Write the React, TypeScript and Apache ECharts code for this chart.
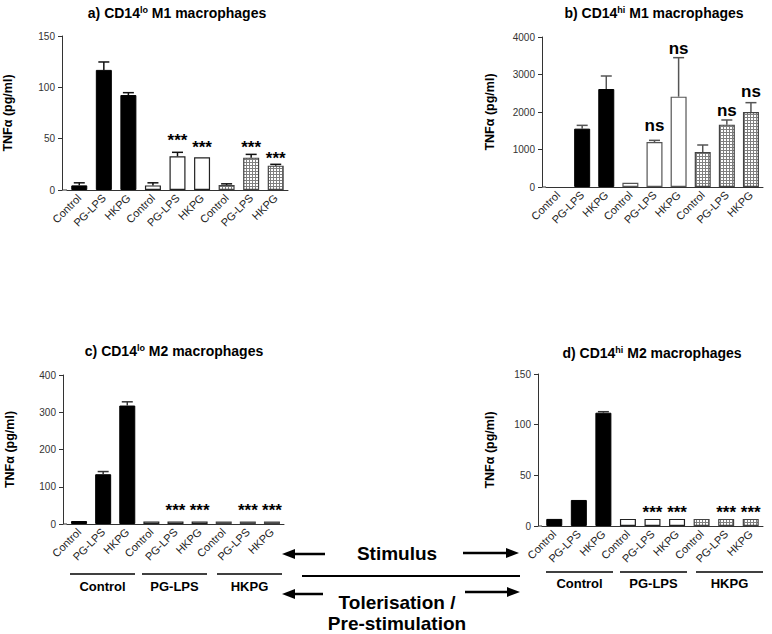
import React, { useEffect, useRef } from 'react';
import * as echarts from 'echarts';

const categories = ['Control', 'PG-LPS', 'HKPG', 'Control', 'PG-LPS', 'HKPG', 'Control', 'PG-LPS', 'HKPG'];
const groupNames = ['Control', 'PG-LPS', 'HKPG'];

// panel a) CD14lo M1
const aValues = [4.5, 117, 92.5, 4.5, 32.8, 31.8, 4.9, 31.5, 23.7];
const aErrors = [7, 124.7, 94.8, 7, 36.7, null, 6, 34.7, 25];
const aSig = ['', '', '', '', '***', '***', '', '***', '***'];
const aSigPos = [null, null, null, null, 51, 44, null, 44.5, 34];

// panel b) CD14hi M1
const bValues = [0, 1556, 2613, 110, 1200, 2409, 933, 1662, 2000];
const bErrors = [null, 1644, 2960, null, 1244, 3449, 1120, 1787, 2249];
const bSig = ['', '', '', '', 'ns', 'ns', '', 'ns', 'ns'];
const bSigPos = [null, null, null, null, 1640, 3700, null, 2040, 2560];

// panel c) CD14lo M2
const cValues = [8, 133.6, 318, 7, 7, 7, 7, 7, 7];
const cErrors = [null, 140.8, 328, null, null, null, null, null, null];
const cSig = ['', '', '', '', '***', '***', '', '***', '***'];
const cSigPos = [null, null, null, null, 44, 44, null, 44, 44];

// panel d) CD14hi M2
const dValues = [7, 25.7, 111.8, 7, 7, 7, 7, 7, 7];
const dErrors = [null, null, 112.8, null, null, null, null, null, null];
const dSig = ['', '', '', '', '***', '***', '', '***', '***'];
const dSigPos = [null, null, null, null, 16.5, 16.5, null, 16.5, 16.5];

const yMax = [150, 4000, 400, 150];
const yInterval = [50, 1000, 100, 50];

const FONT = 'Liberation Sans, Arial, sans-serif';

export default function App() {
  const ref = useRef<HTMLDivElement>(null);

  useEffect(() => {
    if (!ref.current) return;
    const chart = echarts.init(ref.current, undefined, { renderer: 'svg' });

    // hatch pattern tile
    const cv = document.createElement('canvas');
    cv.width = 3;
    cv.height = 3;
    const ctx = cv.getContext('2d')!;
    ctx.fillStyle = '#ffffff';
    ctx.fillRect(0, 0, 3, 3);
    ctx.fillStyle = '#808080';
    ctx.fillRect(0, 0, 3, 1);
    ctx.fillRect(0, 0, 1, 3);
    const hatch: any = { image: cv, repeat: 'repeat' };

    const grids = [
      { left: 67, top: 36, width: 221, height: 154, offset: 5 },
      { left: 546, top: 37, width: 217, height: 150, offset: 4 },
      { left: 67, top: 375, width: 217, height: 149, offset: 4 },
      { left: 542, top: 374, width: 221, height: 152, offset: 4 },
    ];
    const nameGaps = [48, 46, 47, 42];
    const panels = [
      { values: aValues, errors: aErrors, sig: aSig, sigPos: aSigPos, edge: '#111', sigFont: `bold 17px ${FONT}` },
      { values: bValues, errors: bErrors, sig: bSig, sigPos: bSigPos, edge: '#555', sigFont: `bold 17px ${FONT}` },
      { values: cValues, errors: cErrors, sig: cSig, sigPos: cSigPos, edge: '#333', sigFont: `bold 17px ${FONT}` },
      { values: dValues, errors: dErrors, sig: dSig, sigPos: dSigPos, edge: '#333', sigFont: `bold 17px ${FONT}` },
    ];

    const series: any[] = [];
    panels.forEach((p, k) => {
      series.push({
        type: 'bar',
        xAxisIndex: k,
        yAxisIndex: k,
        barWidth: 16,
        data: p.values.map((v, i) => {
          const g = Math.floor(i / 3);
          const style =
            g === 0
              ? { color: '#000', borderColor: '#000', borderWidth: v === 0 ? 0 : 1 }
              : g === 1
              ? { color: '#fff', borderColor: k === 1 ? '#555' : '#222', borderWidth: 1.2 }
              : { color: hatch, borderColor: '#444', borderWidth: 1.2 };
          return { value: v, itemStyle: style };
        }),
      });
      series.push({
        type: 'custom',
        xAxisIndex: k,
        yAxisIndex: k,
        z: 5,
        data: p.values
          .map((v, i) => (p.errors[i] == null ? null : [i, v, p.errors[i]]))
          .filter((d) => d !== null),
        renderItem: (params: any, api: any) => {
          const x = api.value(0);
          const p0 = api.coord([x, api.value(1)]);
          const p1 = api.coord([x, api.value(2)]);
          const st = { stroke: p.edge, lineWidth: 1.5 };
          return {
            type: 'group',
            children: [
              { type: 'line', shape: { x1: p0[0], y1: p0[1], x2: p1[0], y2: p1[1] }, style: st },
              { type: 'line', shape: { x1: p1[0] - 5.5, y1: p1[1], x2: p1[0] + 5.5, y2: p1[1] }, style: st },
            ],
          };
        },
      });
      const sigData = p.sig
        .map((s, i) => (s ? [i, p.sigPos[i]] : null))
        .filter((d) => d !== null);
      series.push({
        type: 'custom',
        xAxisIndex: k,
        yAxisIndex: k,
        z: 6,
        data: sigData,
        renderItem: (params: any, api: any) => {
          const i = api.value(0);
          const pt = api.coord([i, api.value(1)]);
          const s = p.sig[i];
          return {
            type: 'text',
            x: pt[0],
            y: pt[1] + (s === '***' ? 3 : 0),
            style: { text: s, font: p.sigFont, fill: '#000', align: 'center', verticalAlign: 'middle' },
          };
        },
      });
    });

    const titleText = (letter: string, sup: string, m: string) =>
      `{b|${letter}) CD14}{s|${sup}}{b| ${m} macrophages}`;
    const titleRich = {
      b: { fontSize: 14, fontWeight: 'bold', fontFamily: FONT, lineHeight: 16, color: '#000' },
      s: { fontSize: 9, fontWeight: 'bold', fontFamily: FONT, lineHeight: 16, verticalAlign: 'top', color: '#000' },
    };
    const titles = [
      { x: 177, y: 13, t: titleText('a', 'lo', 'M1') },
      { x: 654, y: 13, t: titleText('b', 'hi', 'M1') },
      { x: 174, y: 351, t: titleText('c', 'lo', 'M2') },
      { x: 652, y: 353, t: titleText('d', 'hi', 'M2') },
    ];

    const graphic: any[] = [];
    titles.forEach((t) => {
      graphic.push({
        type: 'text',
        x: t.x,
        y: t.y,
        style: { text: t.t, rich: titleRich, align: 'center', verticalAlign: 'middle' },
      });
    });
    // close the gap between offset y-axis and x-axis
    grids.forEach((g) => {
      graphic.push({
        type: 'line',
        shape: { x1: g.left - g.offset, y1: g.top + g.height, x2: g.left, y2: g.top + g.height },
        style: { stroke: '#333', lineWidth: 1 },
      });
    });
    // group labels under c and d
    const groupLayouts = [
      { lineY: 574, textY: 586, spans: [[70, 135], [142, 207], [217, 282]] },
      { lineY: 572, textY: 583, spans: [[546, 613], [620, 687], [696, 763]] },
    ];
    groupLayouts.forEach((gl) => {
      gl.spans.forEach((s, i) => {
        graphic.push({
          type: 'line',
          shape: { x1: s[0], y1: gl.lineY, x2: s[1], y2: gl.lineY },
          style: { stroke: '#000', lineWidth: 1.5 },
        });
        graphic.push({
          type: 'text',
          x: (s[0] + s[1]) / 2,
          y: gl.textY,
          style: {
            text: groupNames[i],
            font: `bold 13px ${FONT}`,
            fill: '#000',
            align: 'center',
            verticalAlign: 'middle',
          },
        });
      });
    });
    // middle arrows
    const arrow = (x1: number, x2: number, y: number, headLeft: boolean) => {
      const hx = headLeft ? x1 : x2;
      const dir = headLeft ? 1 : -1;
      graphic.push({
        type: 'line',
        shape: { x1: headLeft ? x1 + 10 : x1, y1: y, x2: headLeft ? x2 : x2 - 10, y2: y },
        style: { stroke: '#000', lineWidth: 2.5 },
      });
      graphic.push({
        type: 'polygon',
        shape: { points: [[hx, y], [hx + dir * 13, y - 5], [hx + dir * 13, y + 5]] },
        style: { fill: '#000' },
      });
    };
    arrow(282, 325, 554, true);
    arrow(463, 519, 553, false);
    arrow(282, 323, 594, true);
    arrow(465, 520, 592, false);
    graphic.push({
      type: 'line',
      shape: { x1: 302, y1: 576, x2: 520, y2: 576 },
      style: { stroke: '#000', lineWidth: 2 },
    });
    const bigText = (t: string, y: number) =>
      graphic.push({
        type: 'text',
        x: 397,
        y,
        style: { text: t, font: `bold 19px ${FONT}`, fill: '#000', align: 'center', verticalAlign: 'middle' },
      });
    bigText('Stimulus', 553);
    bigText('Tolerisation /', 602);
    bigText('Pre-stimulation', 623);

    chart.setOption({
      animation: false,
      backgroundColor: '#fff',
      textStyle: { fontFamily: FONT },
      grid: grids.map((g) => ({ left: g.left, top: g.top, width: g.width, height: g.height, containLabel: false })),
      xAxis: grids.map((g, k) => ({
        type: 'category',
        gridIndex: k,
        data: categories,
        axisLine: { show: true, lineStyle: { color: '#333', width: 1 } },
        axisTick: { show: false },
        axisLabel: { rotate: 45, interval: 0, fontSize: 11, color: '#222', margin: 6, fontFamily: FONT },
      })),
      yAxis: grids.map((g, k) => ({
        type: 'value',
        gridIndex: k,
        min: 0,
        max: yMax[k],
        interval: yInterval[k],
        offset: g.offset,
        name: 'TNFα (pg/ml)',
        nameLocation: 'middle',
        nameRotate: 90,
        nameGap: nameGaps[k],
        nameTextStyle: { fontSize: 12.5, fontWeight: 'bold', color: '#000', fontFamily: FONT },
        axisLine: { show: true, lineStyle: { color: '#333', width: 1 } },
        axisTick: { show: true, length: 4, lineStyle: { color: '#333' } },
        splitLine: { show: false },
        axisLabel: {
          fontSize: 10,
          color: '#333',
          margin: 7,
          fontFamily: FONT,
          formatter: (v: number) => String(v),
        },
      })),
      series,
      graphic,
    });

    return () => chart.dispose();
  }, []);

  return (
    <div
      ref={ref}
      style={{ position: 'absolute', left: 0, top: 0, width: 772, height: 634, background: '#fff' }}
    />
  );
}
